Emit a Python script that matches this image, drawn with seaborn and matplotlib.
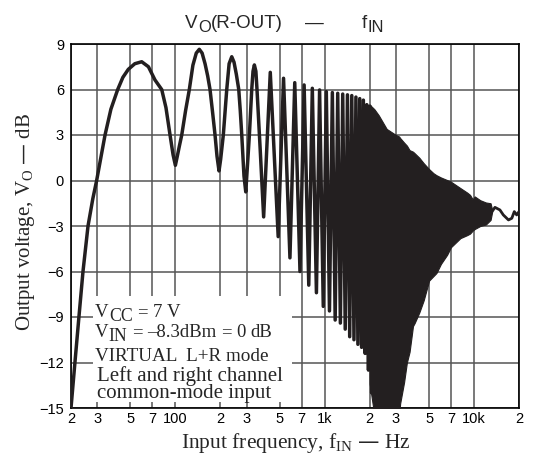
import numpy as np
import pandas as pd
import matplotlib
matplotlib.use('Agg')
import matplotlib.pyplot as plt
import seaborn as sns
from matplotlib.patches import Rectangle

#%% data (frequency in Hz, level in dB)

# low-frequency rise and the clearly resolved comb ripples
curve_freq = [20, 21.25, 22.6, 24.06, 26.0, 28.0, 29.7, 33.8, 37.0, 41.1, 44.5, 48.4, 53.5, 59.5,
              66, 73.0, 81.0, 86.5, 92.1, 96.5, 100,
              103, 106.5, 110.3, 117, 124, 131, 138, 144.6, 151, 158, 164.5, 170.6, 177, 184.3, 190, 196,
              201, 209.4, 220.8, 229, 238.5, 247, 256, 265.7, 272, 278.3, 288, 296,
              303, 313, 324.6, 331, 338, 346, 352, 370, 390,
              432, 488, 530, 585, 630, 683, 728, 782, 826, 880, 924, 978,
              1025, 1076, 1125, 1175, 1222, 1273, 1320, 1372, 1420, 1470, 1518, 1570, 1618, 1668,
              1716, 1766, 1815, 1865, 1913, 1963, 2010, 2060]
curve_db = [-15, -12, -9, -6, -3, -1.2, 0, 3, 4.7, 6, 6.8, 7.33, 7.7, 7.83,
            7.5, 6.63, 6.0, 4.8, 3.0, 1.7, 1.0,
            1.6, 2.3, 3.0, 4.6, 6.0, 7.6, 8.4, 8.65, 8.4, 7.7, 6.9, 6.0, 4.6, 3.0, 1.6, 0.63,
            1.4, 3.0, 6.0, 7.7, 8.16, 7.8, 7.0, 6.0, 4.6, 3.0, 0.3, -0.75,
            0.8, 3.0, 6.0, 7.2, 7.62, 7.2, 6.0, 2.0, -2.4,
            7.13, -3.7, 6.74, -5.1, 6.45, -6.0, 6.3, -6.9, 6.08, -7.4, 5.97, -8.3,
            5.86, -8.6, 5.8, -9.2, 5.75, -9.4, 5.7, -9.8, 5.65, -10.3, 5.6, -10.5, 5.5, -10.8,
            5.4, -11.0, 5.3, -11.4, 5.0, -12.5, 4.9, -14.0]

# dense (unresolved) ripple band: upper and lower envelopes
band_freq = [2000, 2150, 2300, 2600, 3000, 3150, 3200, 3400, 3550, 3700, 3900, 4000, 4300, 4600,
             5000, 5350, 5600, 6000, 6600, 7000, 8100, 9000, 9400, 9800, 10100, 11000, 12000,
             12900, 13200]
band_hi = [5.0, 4.7, 4.3, 3.4, 3.0, 2.9, 2.8, 2.5, 2.3, 2.0, 1.9, 1.8, 1.5, 1.14,
           0.75, 0.48, 0.35, 0.2, 0.03, -0.08, -0.5, -0.8, -0.95, -1.25, -1.05, -1.3, -1.45,
           -1.5, -1.9]
band_lo = [-13.4, -15.5, -15.5, -15.5, -15.5, -15.5, -14.7, -13.3, -12.0, -11.3, -9.6, -9.4, -8.7, -7.9,
           -6.6, -6.3, -6.1, -5.5, -4.9, -4.4, -3.8, -3.6, -3.5, -3.3, -3.2, -3.0, -2.9,
           -2.6, -2.1]

# high-frequency tail
tail_freq = [13200, 13800, 14900, 15700, 17000, 17900, 18600, 19300, 20000]
tail_db = [-2.05, -1.77, -1.94, -2.27, -2.6, -2.49, -2.05, -2.27, -2.05]

xticks = [20, 30, 50, 70, 100, 200, 300, 500, 700, 1000, 2000, 3000, 5000, 7000, 10000, 20000]
xticklabels = ['2', '3', '5', '7', '100', '2', '3', '5', '7', '1k', '2', '3', '5', '7', '10k', '2']
yticks = [-15, -12, -9, -6, -3, 0, 3, 6, 9]

#%% plot

sns.set_style('white')
plt.rcParams['font.family'] = ['Liberation Sans', 'DejaVu Sans']
plt.rcParams['mathtext.default'] = 'regular'

ink = '#231f20'
sans = ['Liberation Sans', 'DejaVu Sans']
serif = ['Liberation Serif', 'DejaVu Serif']
W, H = 539, 457

fig = plt.figure(figsize=(W/100, H/100), dpi=100)
ax = fig.add_axes([71/W, 1-408/H, 448/W, 364/H])
renderer = fig.canvas.get_renderer()

df_curve = pd.DataFrame({'freq': curve_freq, 'db': curve_db})
df_tail = pd.DataFrame({'freq': tail_freq, 'db': tail_db})

sns.lineplot(data=df_curve, x='freq', y='db', ax=ax, color=ink, linewidth=2.5,
             estimator=None, sort=False, zorder=3)
ax.fill_between(band_freq, band_lo, band_hi, color=ink, linewidth=0.8, edgecolor=ink, zorder=3)
sns.lineplot(data=df_tail, x='freq', y='db', ax=ax, color=ink, linewidth=2.0,
             estimator=None, sort=False, zorder=3)

ax.set_xscale('log')
ax.set_xlim(20, 20000)
ax.set_ylim(-15, 9)
ax.set_xticks(xticks)
ax.set_xticklabels(xticklabels)
ax.xaxis.set_minor_locator(matplotlib.ticker.NullLocator())
ax.set_yticks(yticks)
ax.set_yticklabels([str(v).replace('-', '\u2212') for v in yticks])
ax.tick_params(axis='both', labelsize=10.5, colors='black', length=3, width=1, pad=2)
ax.tick_params(axis='x', length=0, pad=3)
for lab in ax.get_xticklabels() + ax.get_yticklabels():
    lab.set_family(sans)

ax.grid(True, color='#555555', linewidth=1.1)
ax.set_axisbelow(True)
for sp in ax.spines.values():
    sp.set_color('black')
    sp.set_linewidth(1.2)
ax.set_xlabel('')
ax.set_ylabel('')

# white box behind the note
ax.add_patch(Rectangle((0.049, 0.0165), 0.444, 0.291, transform=ax.transAxes,
                       facecolor='white', edgecolor='none', zorder=1.5))


def put_run(x, y, runs, size, family):
    # runs: (text, drop in px, size scale, gap before in em)
    for txt, dy, sc, gap in runs:
        x += gap * size * sc * 100 / 72
        t = fig.text(x/W, 1-(y+dy)/H, txt, ha='left', va='baseline',
                     fontsize=size*sc, family=family)
        x += t.get_window_extent(renderer).width


# title
put_run(185, 28, [('V', 0, 1, 0), ('O', 4, 0.88, 0.02), ('(R-OUT)', 0, 1, 0.02)], 13.5, sans)
put_run(305, 28, [('—', 0, 1, 0)], 13.5, sans)
put_run(362, 28, [('f', 0, 1, 0), ('IN', 4, 0.88, 0.02)], 13.5, sans)

# axis labels
fig.text(26/W, 1-222/H, r'Output voltage, V$_{O}$ — dB', rotation=90, ha='center',
         va='center', fontsize=15, family=serif)
fig.text(296/W, 1-448/H, r'Input frequency, f$_{IN}$ — Hz', ha='center', va='baseline',
         fontsize=15.5, family=serif)

# conditions note
put_run(95, 316.7, [('V', 0, 1, 0), ('CC', 4, 0.95, 0.02), ('=', 0, 1, 0.25), ('7', 0, 1, 0.25),
                    ('V', 0, 1, 0.25)], 13.5, serif)
put_run(95, 336.7, [('V', 0, 1, 0), ('IN', 4, 0.95, 0.02), ('=', 0, 1, 0.25), ('–8.3dBm', 0, 1, 0.25),
                    ('=', 0, 1, 0.25), ('0', 0, 1, 0.25), ('dB', 0, 1, 0.25)], 13.5, serif)
fig.text(95/W, 1-360.7/H, 'VIRTUAL  L+R mode', ha='left', va='baseline', fontsize=13.8, family=serif)
fig.text(96.7/W, 1-381/H, 'Left and right channel', ha='left', va='baseline', fontsize=15, family=serif)
fig.text(96.7/W, 1-398.3/H, 'common-mode input', ha='left', va='baseline', fontsize=15, family=serif)

plt.savefig('out.png', dpi=100)
